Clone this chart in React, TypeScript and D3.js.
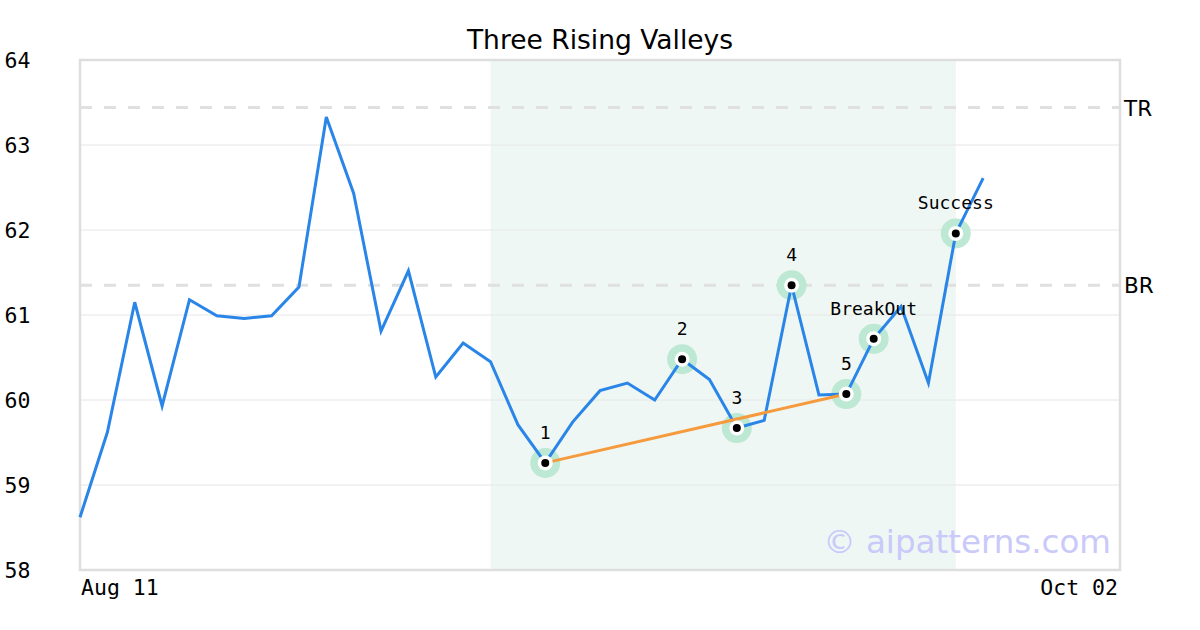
import React from "react";
import * as d3 from "d3";

const prices: number[] = [
  58.62, 59.62, 61.15, 59.93, 61.18, 60.99, 60.96, 60.99, 61.33, 63.33,
  62.43, 60.81, 61.52, 60.27, 60.67, 60.45, 59.71, 59.26, 59.74, 60.11,
  60.2, 60.0, 60.48, 60.24, 59.67, 59.76, 61.35, 60.06, 60.07, 60.72,
  61.1, 60.2, 61.96, 62.61,
];
const totalSlots = 38;
const xTickLabels: { i: number; label: string }[] = [
  { i: 0, label: "Aug 11" },
  { i: 38, label: "Oct 02" },
];
const yTicks: number[] = [58, 59, 60, 61, 62, 63, 64];
const levels: { name: string; value: number }[] = [
  { name: "TR", value: 63.44 },
  { name: "BR", value: 61.35 },
];
const patternRange: [number, number] = [15, 32];
const pivots: { i: number; label: string }[] = [
  { i: 17, label: "1" },
  { i: 22, label: "2" },
  { i: 24, label: "3" },
  { i: 26, label: "4" },
  { i: 28, label: "5" },
  { i: 29, label: "BreakOut" },
  { i: 32, label: "Success" },
];
const trendLine: [number, number] = [17, 28];

const W = 1200;
const H = 630;
const left = 80;
const right = 1120;
const top = 60;
const bottom = 570;

export default function App() {
  const x = d3.scaleLinear().domain([0, totalSlots]).range([left, right]);
  const y = d3.scaleLinear().domain([58, 64]).range([bottom, top]);
  const line = d3
    .line<number>()
    .x((_, i) => x(i))
    .y((d) => y(d));
  const mono = "'DejaVu Sans Mono', monospace";
  const sans = "'DejaVu Sans', sans-serif";
  return (
    <svg
      width={W}
      height={H}
      style={{ position: "absolute", left: 0, top: 0, background: "#fff" }}
    >
      <rect
        x={x(patternRange[0])}
        y={top}
        width={x(patternRange[1]) - x(patternRange[0])}
        height={bottom - top}
        fill="#eff7f4"
      />
      {yTicks.slice(1, -1).map((t) => (
        <line
          key={t}
          x1={left}
          x2={right}
          y1={y(t)}
          y2={y(t)}
          stroke="#e6e6e6"
          strokeWidth={1}
        />
      ))}
      {levels.map((l) => (
        <g key={l.name}>
          <line
            x1={left}
            x2={right}
            y1={y(l.value)}
            y2={y(l.value)}
            stroke="#e0e0e0"
            strokeWidth={3}
            strokeDasharray="12,12"
          />
          <text
            x={right + 4}
            y={y(l.value) + 8}
            fontFamily={sans}
            fontSize={21.5}
            fill="#000"
          >
            {l.name}
          </text>
        </g>
      ))}
      <rect
        x={left}
        y={top}
        width={right - left}
        height={bottom - top}
        fill="none"
        stroke="#dedede"
        strokeWidth={2.5}
      />
      {pivots.map((p) => (
        <circle
          key={"h" + p.label}
          cx={x(p.i)}
          cy={y(prices[p.i])}
          r={15}
          fill="#bde8d3"
        />
      ))}
      <path
        d={line(prices) || ""}
        fill="none"
        stroke="#2a85e8"
        strokeWidth={3}
        strokeLinejoin="miter"
      />
      <line
        x1={x(trendLine[0])}
        y1={y(prices[trendLine[0]])}
        x2={x(trendLine[1])}
        y2={y(prices[trendLine[1]])}
        stroke="#f59b3d"
        strokeWidth={3}
      />
      {pivots.map((p) => (
        <g key={p.label}>
          <circle cx={x(p.i)} cy={y(prices[p.i])} r={7.5} fill="#fff" />
          <circle cx={x(p.i)} cy={y(prices[p.i])} r={4} fill="#000" />
          <text
            x={x(p.i)}
            y={y(prices[p.i]) - 24}
            textAnchor="middle"
            fontFamily={mono}
            fontSize={18}
            fill="#000"
          >
            {p.label}
          </text>
        </g>
      ))}
      {yTicks.map((t) => (
        <text
          key={t}
          x={30.5}
          y={y(t) + 7.5}
          textAnchor="end"
          fontFamily={mono}
          fontSize={21.5}
          fill="#000"
        >
          {t}
        </text>
      ))}
      {xTickLabels.map((t, k) => (
        <text
          key={t.label}
          x={x(t.i) + (k === 0 ? 1 : -2)}
          y={595}
          textAnchor={k === 0 ? "start" : "end"}
          fontFamily={mono}
          fontSize={21.5}
          fill="#000"
        >
          {t.label}
        </text>
      ))}
      <text
        x={600}
        y={49}
        textAnchor="middle"
        fontFamily={sans}
        fontSize={26.5}
        fill="#000"
      >
        Three Rising Valleys
      </text>
      <text
        x={1111}
        y={553}
        textAnchor="end"
        fontFamily={sans}
        fontSize={32.5}
        fill="#c9c9fa"
      >
        © aipatterns.com
      </text>
    </svg>
  );
}
